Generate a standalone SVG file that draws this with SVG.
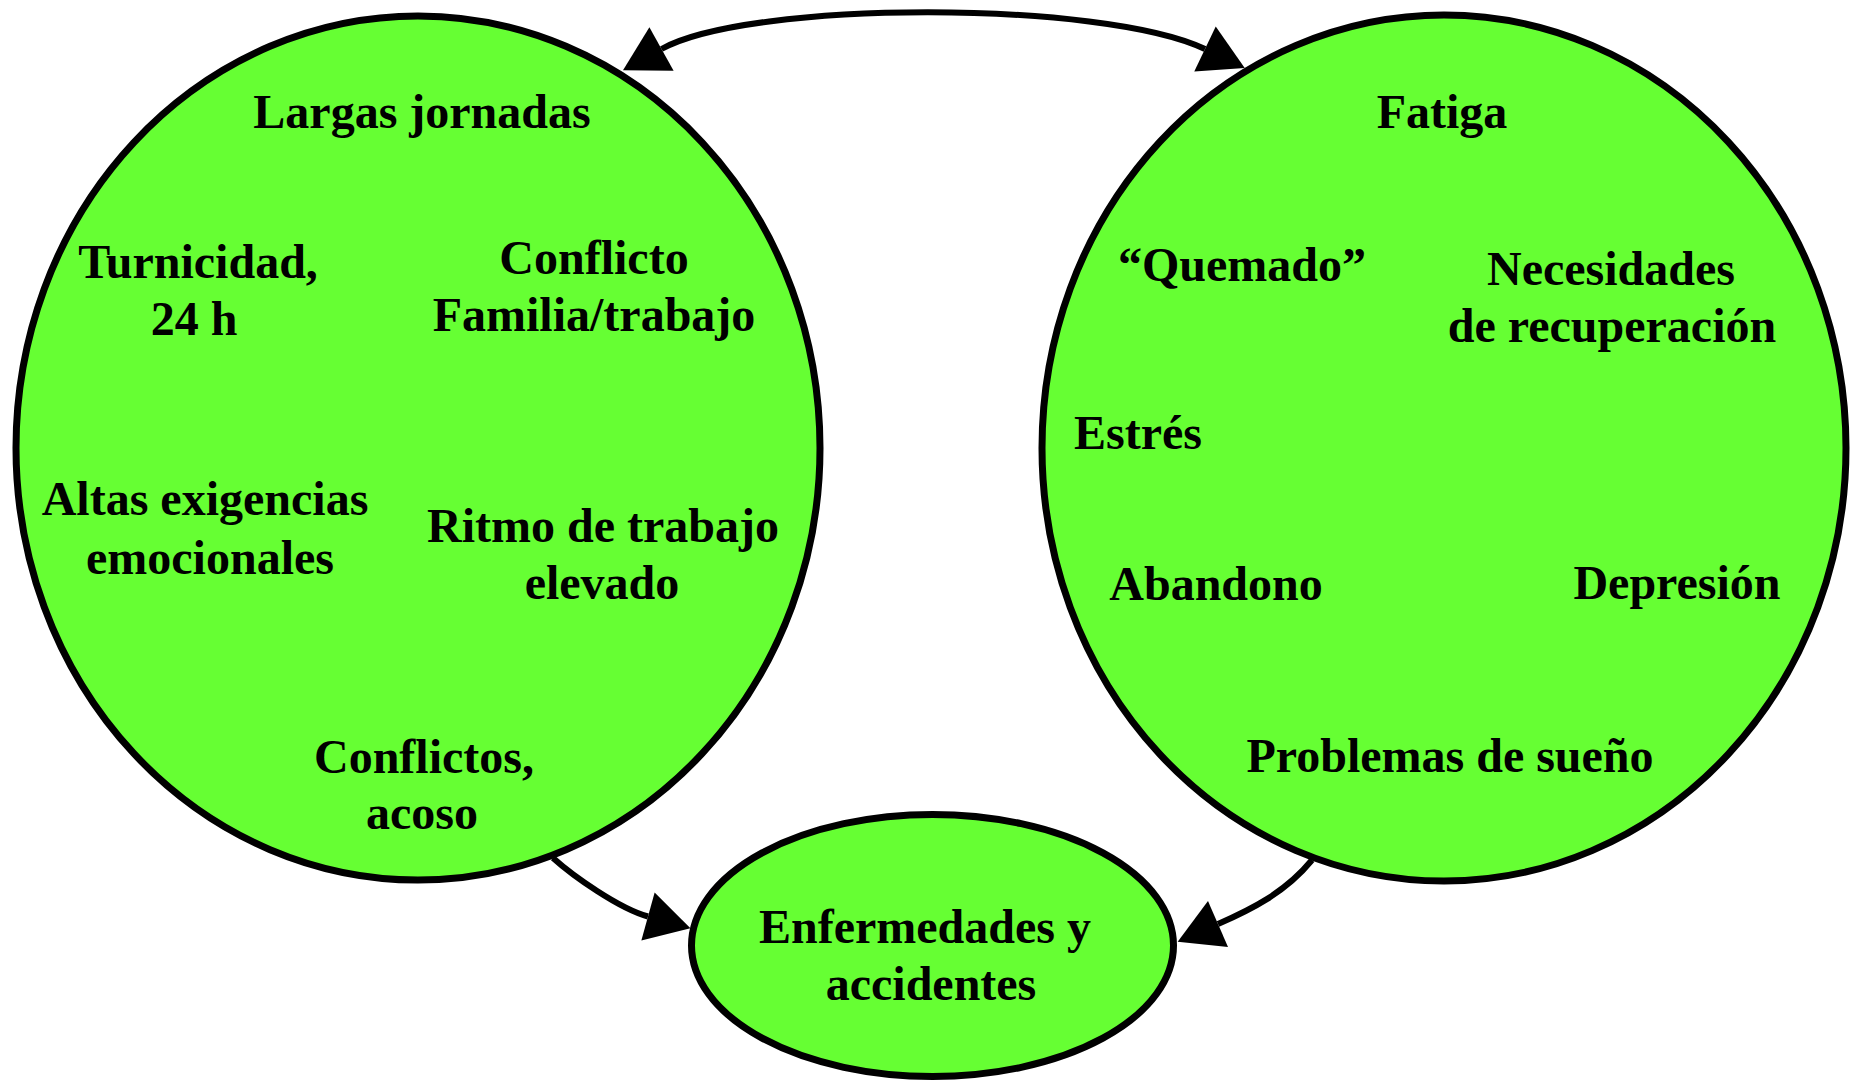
<svg xmlns="http://www.w3.org/2000/svg" width="1851" height="1084" viewBox="0 0 1851 1084">
<style>
.node{fill:#66FF33;stroke:#000;stroke-width:7}
.t{font-family:"Liberation Serif","Times New Roman",serif;font-weight:bold;font-size:48px;fill:#000;text-anchor:middle}
.edge{fill:none;stroke:#000;stroke-width:6}
</style>
<defs>
<marker id="ah" markerUnits="userSpaceOnUse" markerWidth="44" markerHeight="50" refX="0" refY="25" orient="auto" overflow="visible">
<path d="M0,0 L44,25 L0,50 Z" fill="#000"/>
</marker>
<marker id="ahs" markerUnits="userSpaceOnUse" markerWidth="44" markerHeight="50" refX="0" refY="25" orient="auto-start-reverse" overflow="visible">
<path d="M0,0 L44,25 L0,50 Z" fill="#000"/>
</marker>
</defs>
<g id="largas">
<ellipse class="node" cx="418" cy="448" rx="402" ry="432"/>
<text class="t" x="422" y="128">Largas jornadas</text>
<text class="t" x="198" y="278">Turnicidad,</text>
<text class="t" x="194" y="335">24 h</text>
<text class="t" x="594" y="274">Conflicto</text>
<text class="t" x="594" y="331">Familia/trabajo</text>
<text class="t" x="205" y="515">Altas exigencias</text>
<text class="t" x="210" y="574">emocionales</text>
<text class="t" x="603" y="542">Ritmo de trabajo</text>
<text class="t" x="602" y="599">elevado</text>
<text class="t" x="424" y="773">Conflictos,</text>
<text class="t" x="422" y="829">acoso</text>
</g>
<g id="fatiga">
<ellipse class="node" cx="1444" cy="448" rx="402" ry="433"/>
<text class="t" x="1442" y="128">Fatiga</text>
<text class="t" x="1242" y="281">“Quemado”</text>
<text class="t" x="1611" y="285">Necesidades</text>
<text class="t" x="1612" y="342">de recuperación</text>
<text class="t" x="1138" y="449">Estrés</text>
<text class="t" x="1216" y="600">Abandono</text>
<text class="t" x="1677" y="599">Depresión</text>
<text class="t" x="1450" y="772">Problemas de sueño</text>
</g>
<g id="enfermedades">
<ellipse class="node" cx="932.5" cy="945.5" rx="241" ry="131"/>
<text class="t" x="925" y="943">Enfermedades y</text>
<text class="t" x="931" y="1000">accidentes</text>
</g>
<g id="connectors">
<path class="edge" d="M661.5,49 C750,0 1102,0 1205,49" marker-start="url(#ahs)" marker-end="url(#ah)"/>
<path class="edge" d="M553,858 C573,876 619,908.5 648,916.5" marker-end="url(#ah)"/>
<path class="edge" d="M1312,860 C1285,893 1250,910 1218,924" marker-end="url(#ah)"/>
</g>
</svg>
